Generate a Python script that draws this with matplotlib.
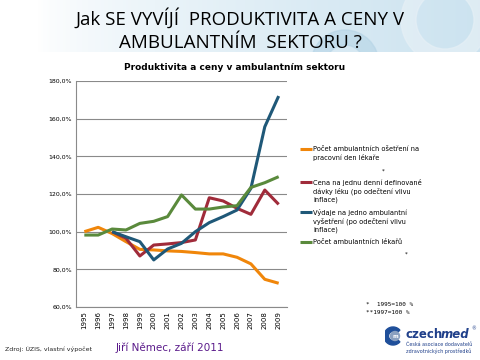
import numpy as np
import matplotlib
matplotlib.use("Agg")
import matplotlib.pyplot as plt
from matplotlib.patches import Circle, Wedge
from matplotlib.legend import Legend
from matplotlib.legend_handler import HandlerLine2D

years = list(range(1995, 2010))
year_labels = [str(y) for y in years]

osetreni = [100.0, 102.3, 99.0, 94.7, 90.6, 90.3, 89.8, 89.5, 88.9, 88.2, 88.2, 86.4, 82.9, 74.7, 72.6]
cena = [None, None, 100.0, 96.5, 87.1, 92.9, 93.5, 94.2, 95.6, 118.0, 116.3, 112.4, 109.2, 122.1, 114.5]
vydaje = [None, None, 100.0, 97.3, 94.7, 85.0, 90.8, 93.8, 100.0, 104.8, 108.0, 111.5, 123.0, 155.7, 172.0]
lekari = [98.2, 98.2, 101.4, 100.9, 104.4, 105.5, 108.0, 119.5, 112.0, 112.0, 113.1, 113.8, 123.5, 126.0, 129.2]

series_labels = [
    "Počet ambulantních ošetření na\npracovní den lékaře",
    "Cena na jednu denní definované\ndávky léku (po odečtení vlivu\ninflace)",
    "Výdaje na jedno ambulantní\nvyšetření (po odečtení vlivu\ninflace)",
    "Počet ambulantních lékařů",
]
colors = ["#F0860A", "#A02B3A", "#1F5878", "#5A8A3C"]
yticks = [60, 80, 100, 120, 140, 160, 180]

LEG_FS = 4.8
LEG_LS = 1.35
legend_first_line_y = [148.5, 181, 211, 242]  # pixel rows of each entry's first line


class TopHandler(HandlerLine2D):
    def __init__(self, nlines, **kw):
        super().__init__(**kw)
        self.nlines = nlines

    def create_artists(self, legend, orig_handle, xdescent, ydescent, width, height, fontsize, trans):
        arts = super().create_artists(legend, orig_handle, xdescent, ydescent, width, height, fontsize, trans)
        shift = (self.nlines - 1) / 2 * fontsize * LEG_LS
        for a in arts:
            a.set_ydata(np.asarray(a.get_ydata()) + shift)
        return arts


fig = plt.figure(figsize=(4.8, 3.6), dpi=100)

# header background
bg = fig.add_axes([0, 1 - 52 / 360, 1, 52 / 360])
grad = np.linspace(0, 1, 400)
grad = np.clip((grad - 0.08) / 0.92, 0, 1) ** 0.7
img = np.ones((10, 400, 3))
c1 = np.array([1.0, 1.0, 1.0])
c2 = np.array([0.80, 0.89, 0.94])
for i in range(3):
    img[:, :, i] = c1[i] + (c2[i] - c1[i]) * grad
bg.imshow(img, extent=[0, 480, 0, 52], aspect="auto")
bg.add_patch(Wedge((445, 32), 44, 0, 360, width=15, color="#e6f0f6", alpha=0.7))
bg.add_patch(Wedge((345, -12), 34, 0, 180, width=15, color="#b5d4e6", alpha=0.6))
bg.set_xlim(0, 480)
bg.set_ylim(0, 52)
bg.axis("off")

ax = fig.add_axes([76 / 480, 1 - 307 / 360, (287 - 76) / 480, (307 - 81) / 360])
x = np.arange(len(years))
lines = []
for vals, col, lab in zip([osetreni, cena, vydaje, lekari], colors, series_labels):
    v = np.array([np.nan if a is None else a for a in vals], dtype=float)
    ln, = ax.plot(x, v, color=col, lw=2.2, label=lab, solid_capstyle="butt")
    lines.append(ln)

ax.set_ylim(60, 180)
ax.set_xlim(-0.6, len(years) - 0.4)
ax.set_yticks(yticks)
ax.set_yticklabels([f"{t},0%" for t in yticks], fontsize=4.5)
ax.set_xticks(x)
ax.set_xticklabels(year_labels, rotation=90, fontsize=5)
ax.grid(axis="y", color="#8a8a8a", lw=0.8)
ax.set_axisbelow(True)
for s in ["top", "right"]:
    ax.spines[s].set_visible(False)
for s in ["left", "bottom"]:
    ax.spines[s].set_color("#8a8a8a")
ax.tick_params(axis="both", length=0, pad=3)

# one legend per entry so that each can sit at its own row
for ln, lab, yrow in zip(lines, series_labels, legend_first_line_y):
    leg = Legend(ax, [ln], [lab], loc="upper left",
                 bbox_to_anchor=(300 / 480, 1 - (yrow - 2.5) / 360),
                 bbox_transform=fig.transFigure, fontsize=LEG_FS, frameon=False,
                 handlelength=1.8, handletextpad=0.15,
                 borderpad=0, borderaxespad=0,
                 handler_map={ln: TopHandler(lab.count("\n") + 1)})
    for t in leg.get_texts():
        t.set_linespacing(LEG_LS)
    for h in leg.get_lines():
        h.set_linewidth(2.2)
    ax.add_artist(leg)

fig.text(235 / 480, 1 - 67 / 360, "Produktivita a ceny v ambulantním sektoru",
         ha="center", va="center", fontsize=6.5, fontweight="bold", family="DejaVu Sans")
fig.text(240 / 480, 1 - 18 / 360, "Jak SE VYVÍJÍ  PRODUKTIVITA A CENY V",
         ha="center", va="center", fontsize=13.5, family="Open Sans")
fig.text(240 / 480, 1 - 43 / 360, "AMBULANTNÍM  SEKTORU ?",
         ha="center", va="center", fontsize=13.5, family="Open Sans")

fig.text(383 / 480, 1 - 171 / 360, "*", fontsize=4, ha="center", va="center")
fig.text(406 / 480, 1 - 254 / 360, "*", fontsize=4, ha="center", va="center")
fig.text(366 / 480, 1 - 304 / 360, "*  1995=100 %", fontsize=4.3, family="DejaVu Sans Mono", va="center")
fig.text(366 / 480, 1 - 312 / 360, "**1997=100 %", fontsize=4.3, family="DejaVu Sans Mono", va="center")

fig.text(5 / 480, 1 - 349 / 360, "Zdroj: ÚZIS, vlastní výpočet", fontsize=4.5, va="center", color="#222222")
fig.text(116 / 480, 1 - 348 / 360, "Jiří Němec, září 2011", fontsize=7.5, va="center", color="#5a1a8a")

# logo
lg = fig.add_axes([385 / 480, 0, 95 / 480, 40 / 360])
lg.set_xlim(0, 95)
lg.set_ylim(0, 40)
lg.axis("off")
lg.add_patch(Wedge((8, 24), 9, 40, 320, width=4.5, color="#1f4f9a"))
lg.add_patch(Circle((10, 24), 4.5, color="#8aa0c0"))
lg.text(10, 24, "m", fontsize=4, color="white", ha="center", va="center", fontweight="bold")
lg.text(20, 25, "czech", fontsize=8.5, color="#1f3f8a", ha="left", va="center", fontweight="bold")
lg.text(56, 25, "med", fontsize=8.5, color="#1f3f8a", ha="left", va="center", fontweight="bold", style="italic")
lg.text(86, 31, "®", fontsize=3.5, color="#1f3f8a", ha="left", va="center")
lg.text(21, 16, "Česká asociace dodavatelů", fontsize=3.5, color="#1f3f8a", ha="left", va="center")
lg.text(21, 9, "zdravotnických prostředků", fontsize=3.5, color="#1f3f8a", ha="left", va="center")

fig.savefig("out.png", dpi=100)
